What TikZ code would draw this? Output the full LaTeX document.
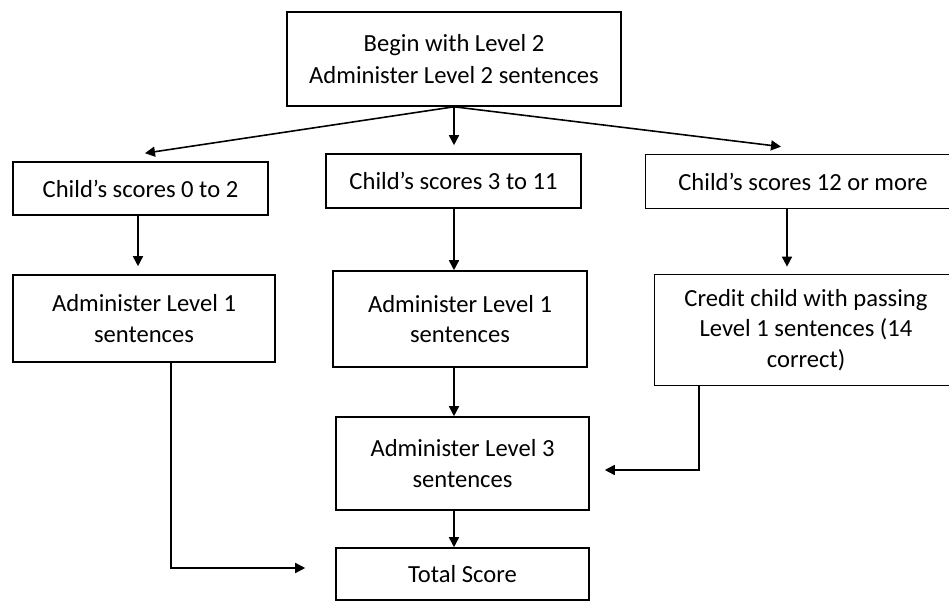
\documentclass[tikz,border=0pt]{standalone}
\usepackage{fontspec}
\setmainfont{Carlito}
\usetikzlibrary{arrows.meta}

\begin{document}
\begin{tikzpicture}[>={Triangle[length=0.2cm,width=0.2cm]},
    font=\fontsize{14}{17.5}\selectfont,
    box/.style={draw, line width=0.9pt, align=center, inner sep=0pt},
    cut/.style={align=center, inner sep=0pt},
    conn/.style={->, line width=0.9pt}]
      \useasboundingbox (0,0) rectangle (18.98,-12.04);
      \coordinate (edge) at (18.98,0);

      % first level
      \node[box, minimum width=6.68cm, minimum height=1.88cm] (start) at (9.08,-1.18) {Begin with Level 2\\[1pt]Administer Level 2 sentences};

      % scores
      \node[box, minimum width=5.10cm, minimum height=1.06cm] (low) at (2.81,-3.77) {Child’s scores 0 to 2};
      \node[box, minimum width=5.10cm, minimum height=1.08cm] (mid) at (9.07,-3.62) {Child’s scores 3 to 11};
      \node[cut, minimum width=6.28cm, minimum height=1.06cm] (high) at (16.06,-3.63) {Child’s scores 12 or more};

      % what to do next
      \node[box, minimum width=5.24cm, minimum height=1.74cm] (lowone) at (2.88,-6.37) {Administer Level 1\\sentences};
      \node[box, minimum width=5.08cm, minimum height=1.92cm] (midone) at (9.20,-6.38) {Administer Level 1\\sentences};
      \node[cut, minimum width=6.04cm, minimum height=2.20cm] (credit) at (16.12,-6.60) {Credit child with passing\\Level 1 sentences (14\\correct)};

      \node[box, minimum width=5.06cm, minimum height=1.86cm] (three) at (9.25,-9.27) {Administer Level 3\\sentences};
      \node[box, minimum width=5.06cm, minimum height=1.04cm] (total) at (9.25,-11.48) {Total Score};

      % right boxes run off the page
      \draw[line width=0.9pt] (high.north west -| edge) -- (high.north west) -- (high.south west) -- (high.south west -| edge);
      \draw[line width=0.9pt] (credit.north west -| edge) -- (credit.north west) -- (credit.south west) -- (credit.south west -| edge);

      \draw[conn] (start.south) -- ([xshift=0.09cm,yshift=0.16cm]low.north);
      \draw[conn, shorten >=0.16cm] (start.south) -- (start.south |- mid.north);
      \draw[conn] (start.south) -- ([xshift=-0.44cm,yshift=0.16cm]high.north);

      \draw[conn, shorten >=0.16cm] ([xshift=-0.05cm]low.south) -- ([xshift=-0.05cm]low.south |- lowone.north);
      \draw[conn] (start.south |- mid.south) -- (start.south |- midone.north);
      \draw[conn, shorten >=0.16cm] ([xshift=-0.32cm]high.south) -- ([xshift=-0.32cm]high.south |- credit.north);

      \draw[conn] (start.south |- midone.south) -- (start.south |- three.north);
      \draw[conn] (start.south |- three.south) -- (start.south |- total.north);

      \draw[conn, shorten >=0.6cm] ([xshift=0.54cm]lowone.south) |- ([yshift=0.12cm]total.west);
      \draw[conn, shorten >=0.3cm] ([xshift=-2.14cm]credit.south) |- ([yshift=-0.13cm]three.east);
    \end{tikzpicture}
\end{document}
